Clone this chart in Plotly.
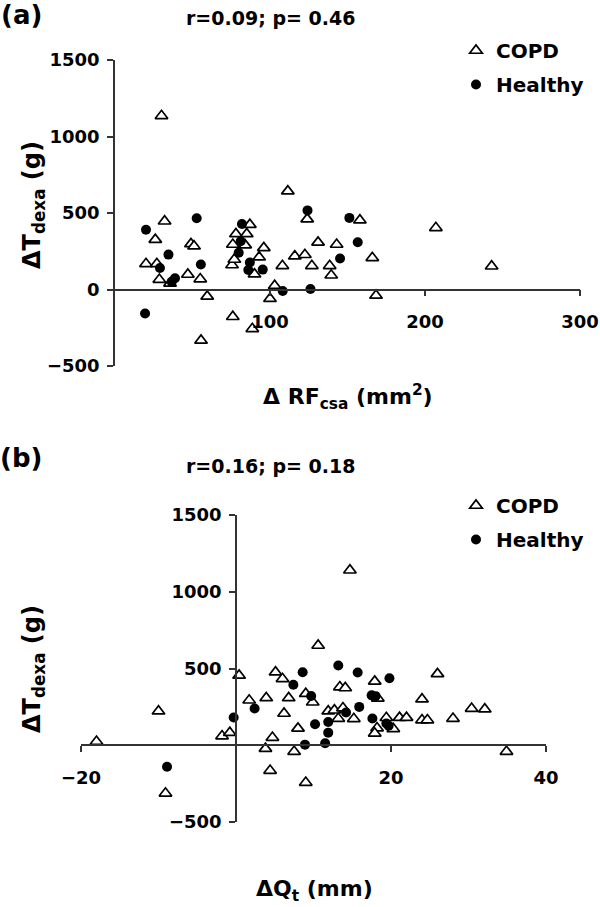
import plotly.graph_objects as go

# ---------------- data: panel (a) ----------------
copd_a_x = [30, 32, 20, 26, 27, 28.6, 35.5, 47, 49, 51, 55, 59.5, 55.5, 76, 75.5, 77, 78, 85, 87, 84,
            93, 96, 90, 76, 88.6, 100, 103, 108, 111.5, 116, 122.5, 124, 127, 131, 138.5, 139.5, 143,
            158, 166, 168.4, 207, 243]
copd_a_y = [1135, 446, 168, 326, 168, 65, 40, 98, 298, 283, 68, -45, -333, 294, 160, 196, 363, 363, 424, 290,
            211, 272, 100, -178, -257, -60, 25, 155, 643, 218, 227, 460, 155, 308, 155, 93, 294,
            453, 207, -39, 403, 152]
healthy_a_x = [20, 19.4, 29, 34.5, 38.7, 36.6, 52.7, 55.4, 81.9, 81.1, 79.8, 87, 86, 95.3, 108.2, 124.2,
               126.1, 145.2, 151.2, 156.6]
healthy_a_y = [390, -157, 141, 228, 74, 50, 466, 163, 428, 315, 240, 176, 128, 130, -10, 517,
               3, 203, 468, 309]

# ---------------- data: panel (b) ----------------
copd_b_x = [-18, -10, -9.1, -1.8, -0.8, 0.4, 1.7, 3.9, 3.8, 4.4, 4.7, 5.1, 6.0, 6.2, 6.8, 7.5, 8.0, 9.0,
            9.0, 9.9, 10.6, 11.9, 12.7, 13.2, 13.4, 14.1, 13.8, 14.7, 15.2, 17.9, 18.3, 19.4, 18.2, 17.9,
            20.3, 21.1, 22.0, 24.0, 24.0, 24.7, 26.0, 28.0, 30.4, 32.1, 34.9]
copd_b_y = [24, 222, -313, 60, 82, 455, 293, 308, -22, -165, 50, 476, 433, 207, 308, -41, 110, 336,
            -243, 280, 650, 222, 228, 174, 379, 373, 242, 1140, 172, 416, 306, 179, 112, 78,
            107, 180, 180, 300, 164, 164, 465, 174, 239, 235, -41]
healthy_b_x = [-8.9, -0.3, 2.4, 7.4, 8.6, 9.7, 10.2, 11.9, 11.9, 11.5, 8.9, 13.2, 14.2, 15.7, 15.9, 17.5,
               18.0, 19.8, 17.6, 19.4, 19.7]
healthy_b_y = [-140, 181, 239, 394, 476, 321, 137, 151, 82, 13, 4, 520, 213, 474, 250, 325,
               320, 436, 174, 142, 127]

titles = ["r=0.09; p= 0.46", "r=0.16; p= 0.18"]
panel_labels = ["(a)", "(b)"]
ytitle = "ΔT<sub>dexa</sub> (g)"
xtitles = ["Δ RF<sub>csa</sub> (mm<sup>2</sup>)", "ΔQ<sub>t</sub> (mm)"]
xticks_a = [100, 200, 300]
yticks_a = [-500, 0, 500, 1000, 1500]
xticks_b = [-20, 20, 40]
yticks_b = [-500, 500, 1000, 1500]

# ---------------- layout helpers ----------------
W, H = 600, 907
FONT = "DejaVu Sans"
def px_x(p): return p / W
def px_y(p): return 1 - p / H

tri = dict(symbol="triangle-up", size=11, color="white", line=dict(color="black", width=1.7))
dot = dict(symbol="circle", size=10, color="black", line=dict(color="black", width=0))

fig = go.Figure()
fig.add_trace(go.Scatter(x=copd_a_x, y=copd_a_y, mode="markers", marker=tri, name="COPD",
                         xaxis="x", yaxis="y", legend="legend", legendgroup="a1"))
fig.add_trace(go.Scatter(x=healthy_a_x, y=healthy_a_y, mode="markers", marker=dot, name="Healthy",
                         xaxis="x", yaxis="y", legend="legend", legendgroup="a2"))
fig.add_trace(go.Scatter(x=copd_b_x, y=copd_b_y, mode="markers", marker=tri, name="COPD",
                         xaxis="x2", yaxis="y2", legend="legend2", legendgroup="b1"))
fig.add_trace(go.Scatter(x=healthy_b_x, y=healthy_b_y, mode="markers", marker=dot, name="Healthy",
                         xaxis="x2", yaxis="y2", legend="legend2", legendgroup="b2"))

axcol = "#333333"
tickfont = dict(family=FONT, size=18, color="black", weight="bold")
common = dict(showgrid=False, zeroline=False, showline=True, linecolor=axcol, linewidth=1.6,
              ticks="outside", ticklen=6, tickwidth=1.6, tickcolor=axcol, tickfont=tickfont,
              automargin=False)

ya_dom = [px_y(366), px_y(60)]
yb_dom = [px_y(822), px_y(515)]
xa_dom = [px_x(115), px_x(580)]
xb_dom = [px_x(81), px_x(546)]
# zero positions
ya_zero = ya_dom[0] + (0 - -500) / 2000 * (ya_dom[1] - ya_dom[0])
yb_zero = yb_dom[0] + (0 - -500) / 2000 * (yb_dom[1] - yb_dom[0])
xb_zero = xb_dom[0] + (0 - -20) / 60 * (xb_dom[1] - xb_dom[0])

legfont = dict(family=FONT, size=20, color="black", weight="bold")
fig.update_layout(
    width=W, height=H, margin=dict(l=0, r=0, t=0, b=0, autoexpand=False),
    paper_bgcolor="white", plot_bgcolor="white",
    xaxis=dict(domain=xa_dom, range=[0, 300], anchor="free", position=ya_zero,
               tickvals=xticks_a, ticklabelstandoff=10, **common),
    yaxis=dict(domain=ya_dom, range=[-500, 1500], anchor="x",
               tickvals=yticks_a, ticklabelstandoff=4, **common),
    xaxis2=dict(domain=xb_dom, range=[-20, 40], anchor="free", position=yb_zero,
                tickvals=xticks_b, ticklabelstandoff=10, **common),
    yaxis2=dict(domain=yb_dom, range=[-500, 1500], anchor="free", position=xb_zero,
                tickvals=yticks_b, ticklabelstandoff=4, **common),
    legend=dict(x=px_x(456), y=px_y(31), xanchor="left", yanchor="top",
                xref="container", yref="container",
                font=legfont, bgcolor="rgba(0,0,0,0)", tracegroupgap=5, itemwidth=30),
    legend2=dict(x=px_x(456), y=px_y(486), xanchor="left", yanchor="top",
                 xref="container", yref="container",
                 font=legfont, bgcolor="rgba(0,0,0,0)", tracegroupgap=5, itemwidth=30),
)

ann_font = dict(family=FONT, color="black", weight="bold")
annotations = []
for lab, y in zip(panel_labels, [15, 458]):
    annotations.append(dict(text=lab, x=px_x(21), y=px_y(y), xref="paper", yref="paper",
                            showarrow=False, xanchor="center", yanchor="middle",
                            font=dict(size=26, **ann_font)))
for t, y in zip(titles, [18, 466]):
    annotations.append(dict(text=t, x=px_x(270), y=px_y(y), xref="paper", yref="paper",
                            showarrow=False, xanchor="center", yanchor="middle",
                            font=dict(size=19, **ann_font)))
for y in [205, 669]:
    annotations.append(dict(text=ytitle, x=px_x(33), y=px_y(y), xref="paper", yref="paper",
                            showarrow=False, xanchor="center", yanchor="middle", textangle=-90,
                            font=dict(size=24, **ann_font)))
for t, (x, y) in zip(xtitles, [(348, 397), (314, 890)]):
    annotations.append(dict(text=t, x=px_x(x), y=px_y(y), xref="paper", yref="paper",
                            showarrow=False, xanchor="center", yanchor="middle",
                            font=dict(size=22, **ann_font)))
fig.update_layout(annotations=annotations)

# remove the browser's default 8px body margin so the 600x907 figure fills the window exactly
fig.write_html("out.html", config={"displayModeBar": False},
               post_script="document.body.style.margin='0px';")
